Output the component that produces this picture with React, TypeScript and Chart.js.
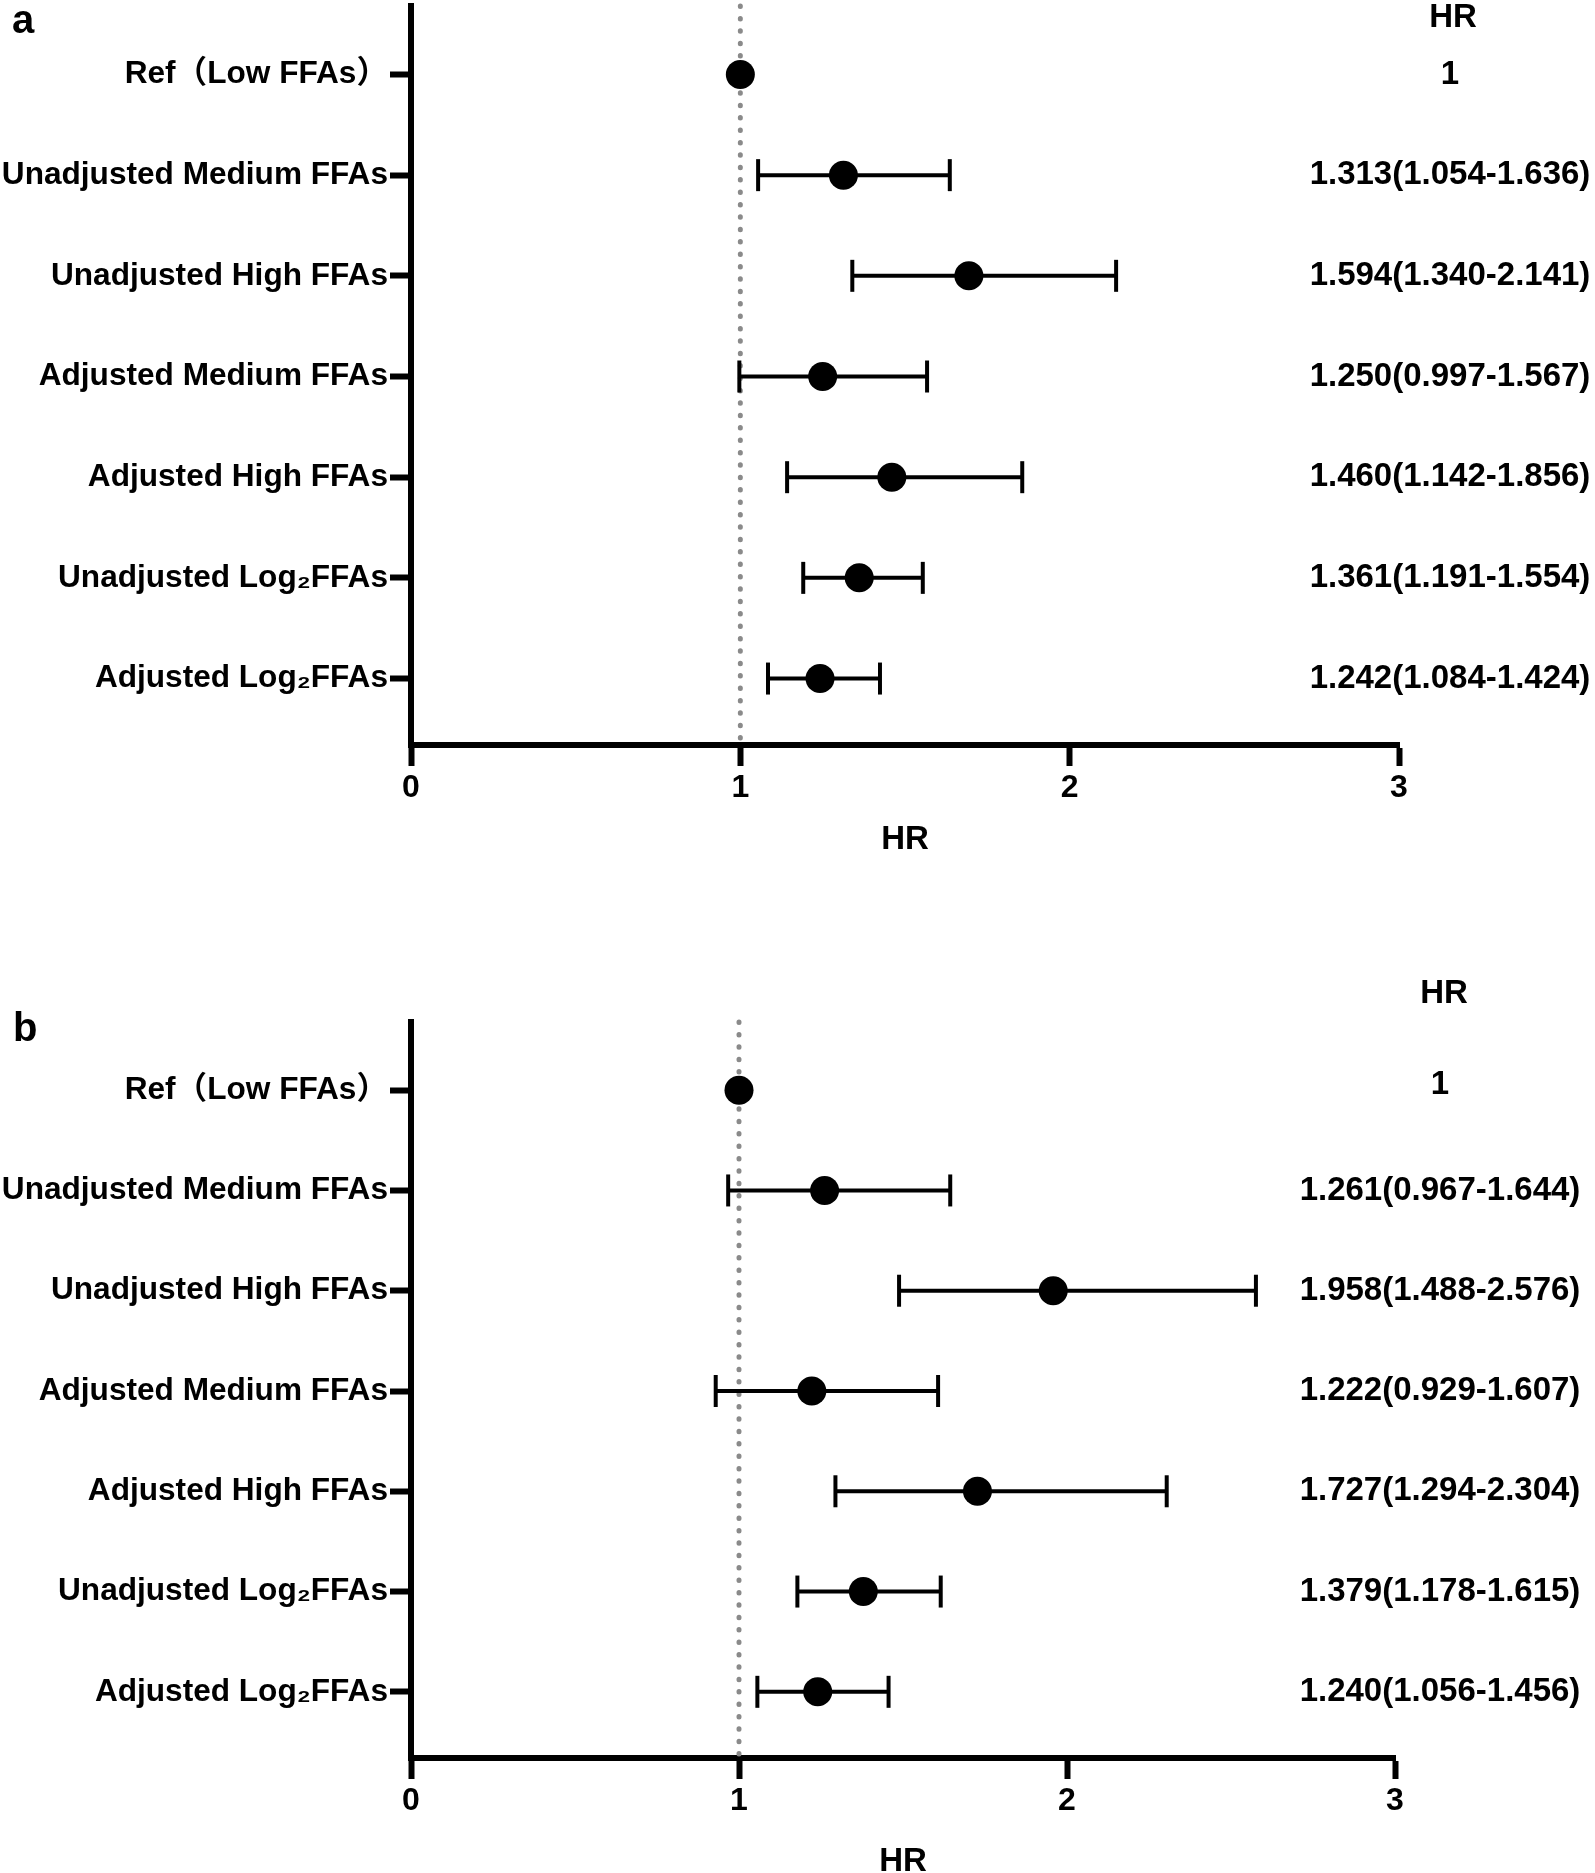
import React, { useEffect, useRef } from "react";
import { Chart, registerables } from "chart.js";

Chart.register(...registerables);

const FONT = "'Liberation Sans', Arial, 'Noto Sans CJK SC', sans-serif";
Chart.defaults.font.family = FONT;
Chart.defaults.font.size = 32;
Chart.defaults.font.weight = "bold" as any;
Chart.defaults.color = "#000";

// ---- data ----
const rowLabels = [
  "Ref（Low FFAs）",
  "Unadjusted Medium FFAs",
  "Unadjusted High FFAs",
  "Adjusted Medium FFAs",
  "Adjusted High FFAs",
  "Unadjusted Log₂FFAs",
  "Adjusted Log₂FFAs",
];
const xTickValues = [0, 1, 2, 3];
const refLineValue = 1;

// panel a
const hrA = [1, 1.313, 1.694, 1.25, 1.46, 1.361, 1.242];
const lowA = [null, 1.054, 1.34, 0.997, 1.142, 1.191, 1.084];
const highA = [null, 1.636, 2.141, 1.567, 1.856, 1.554, 1.424];
const textA = [
  "1",
  "1.313(1.054-1.636)",
  "1.594(1.340-2.141)",
  "1.250(0.997-1.567)",
  "1.460(1.142-1.856)",
  "1.361(1.191-1.554)",
  "1.242(1.084-1.424)",
];

// panel b
const hrB = [1, 1.261, 1.958, 1.222, 1.727, 1.379, 1.24];
const lowB = [null, 0.967, 1.488, 0.929, 1.294, 1.178, 1.056];
const highB = [null, 1.644, 2.576, 1.607, 2.304, 1.615, 1.456];
const textB = [
  "1",
  "1.261(0.967-1.644)",
  "1.958(1.488-2.576)",
  "1.222(0.929-1.607)",
  "1.727(1.294-2.304)",
  "1.379(1.178-1.615)",
  "1.240(1.056-1.456)",
];

const panelText = {
  id: "panelText",
  afterDraw(chart: any, _args: any, opts: any) {
    const ctx = chart.ctx;
    const ys = chart.scales.y;
    ctx.save();
    ctx.fillStyle = "#000";
    ctx.textAlign = "left";
    ctx.textBaseline = "alphabetic";
    ctx.font = `bold 40px ${FONT}`;
    ctx.fillText(opts.letter, opts.letterX, opts.letterY);
    ctx.textAlign = "center";
    ctx.font = `bold 33px ${FONT}`;
    ctx.fillText(opts.header, opts.headerX, opts.headerY);
    ctx.textBaseline = "middle";
    (opts.values as string[]).forEach((t, i) => {
      const dy = i === 0 ? opts.firstDy : 0;
      ctx.fillText(t, opts.colX, ys.getPixelForValue(i + 1) + dy);
    });
    ctx.restore();
  },
};

type PanelProps = {
  hr: number[];
  low: (number | null)[];
  high: (number | null)[];
  text: string[];
  letter: string;
  width: number;
  height: number;
  padTop: number;
  padRight: number;
  xAxisHeight: number;
  titlePad: number;
  letterX: number;
  letterY: number;
  headerX: number;
  headerY: number;
  colX: number;
  firstDy: number;
};

function Panel(p: PanelProps) {
  const ref = useRef<HTMLCanvasElement | null>(null);
  useEffect(() => {
    if (!ref.current) return;
    const ciSets: any[] = [];
    p.hr.forEach((_, i) => {
      const lo = p.low[i];
      const hi = p.high[i];
      if (lo == null || hi == null) return;
      ciSets.push({
        type: "line",
        data: [
          { x: lo, y: i + 1 },
          { x: hi, y: i + 1 },
        ],
        borderColor: "#000",
        borderWidth: 4,
        pointStyle: "line",
        pointRotation: 90,
        pointRadius: 16,
        pointBorderWidth: 4,
        pointBorderColor: "#000",
        pointBackgroundColor: "#000",
        order: 2,
        clip: false,
      });
    });
    const chart = new Chart(ref.current, {
      type: "scatter",
      data: {
        datasets: [
          {
            type: "scatter",
            data: p.hr.map((v, i) => ({ x: v, y: i + 1 })),
            pointRadius: 14.5,
            pointBackgroundColor: "#000",
            pointBorderWidth: 0,
            order: 0,
            clip: false,
          } as any,
          ...ciSets,
          {
            type: "line",
            data: [
              { x: refLineValue, y: 0.32 },
              { x: refLineValue, y: 7.66 },
            ],
            borderColor: "#8a8a8a",
            borderWidth: 5,
            borderDash: [0.5, 11.9],
            borderCapStyle: "round",
            pointRadius: 0,
            order: 5,
            clip: false,
          } as any,
        ],
      },
      options: {
        responsive: false,
        animation: false,
        events: [],
        layout: {
          autoPadding: false,
          padding: { top: p.padTop, right: p.padRight, left: 0, bottom: 0 },
        },
        plugins: {
          legend: { display: false },
          tooltip: { enabled: false },
          panelText: {
            letter: p.letter,
            letterX: p.letterX,
            letterY: p.letterY,
            header: "HR",
            headerX: p.headerX,
            headerY: p.headerY,
            colX: p.colX,
            firstDy: p.firstDy,
            values: p.text,
          },
        } as any,
        scales: {
          x: {
            type: "linear",
            position: "bottom",
            min: 0,
            max: 3,
            afterBuildTicks: (s: any) => {
              s.ticks = xTickValues.map((v) => ({ value: v }));
            },
            afterFit: (s: any) => {
              s.height = p.xAxisHeight;
              s.paddingLeft = 0;
              s.paddingRight = 0;
            },
            border: { display: true, color: "#000", width: 6 },
            grid: {
              drawOnChartArea: false,
              drawTicks: true,
              tickLength: 21,
              tickWidth: 6,
              tickColor: "#000",
            },
            ticks: {
              color: "#000",
              padding: 3,
              font: { family: FONT, size: 32, weight: "bold" },
              callback: (v: any) => String(v),
            },
            title: {
              display: true,
              text: "HR",
              color: "#000",
              font: { family: FONT, size: 33, weight: "bold" },
              padding: { top: 0, bottom: p.titlePad },
            },
          },
          y: {
            type: "linear",
            position: "left",
            reverse: true,
            min: 0.32,
            max: 7.66,
            afterBuildTicks: (s: any) => {
              s.ticks = rowLabels.map((_, i) => ({ value: i + 1 }));
            },
            afterFit: (s: any) => {
              s.width = 411;
              s.paddingTop = 0;
              s.paddingBottom = 0;
            },
            border: { display: true, color: "#000", width: 6 },
            grid: {
              drawOnChartArea: false,
              drawTicks: true,
              tickLength: 21,
              tickWidth: 6,
              tickColor: "#000",
            },
            ticks: {
              color: "#000",
              padding: 2,
              autoSkip: false,
              font: { family: FONT, size: 31.6, weight: "bold", lineHeight: 0.2 },
              callback: (v: any) => rowLabels[Math.round(v) - 1] ?? "",
            },
          },
        },
      } as any,
      plugins: [panelText as any],
    });
    return () => chart.destroy();
  }, []);
  return <canvas ref={ref} width={p.width} height={p.height} style={{ display: "block" }} />;
}

export default function App() {
  return (
    <div
      style={{
        position: "fixed",
        left: 0,
        top: 0,
        width: 1595,
        height: 1873,
        overflow: "hidden",
        background: "#fff",
      }}
    >
      <div style={{ position: "absolute", left: 0, top: 0 }}>
        <Panel
          hr={hrA}
          low={lowA}
          high={highA}
          text={textA}
          letter="a"
          width={1595}
          height={935}
          padTop={6}
          padRight={196}
          xAxisHeight={190}
          titlePad={75}
          letterX={12}
          letterY={33}
          headerX={1453}
          headerY={27}
          colX={1450}
          firstDy={0}
        />
      </div>
      <div style={{ position: "absolute", left: 0, top: 935 }}>
        <Panel
          hr={hrB}
          low={lowB}
          high={highB}
          text={textB}
          letter="b"
          width={1595}
          height={960}
          padTop={87}
          padRight={200}
          xAxisHeight={137}
          titlePad={13}
          letterX={13}
          letterY={106}
          headerX={1444}
          headerY={68}
          colX={1440}
          firstDy={-5}
        />
      </div>
    </div>
  );
}
